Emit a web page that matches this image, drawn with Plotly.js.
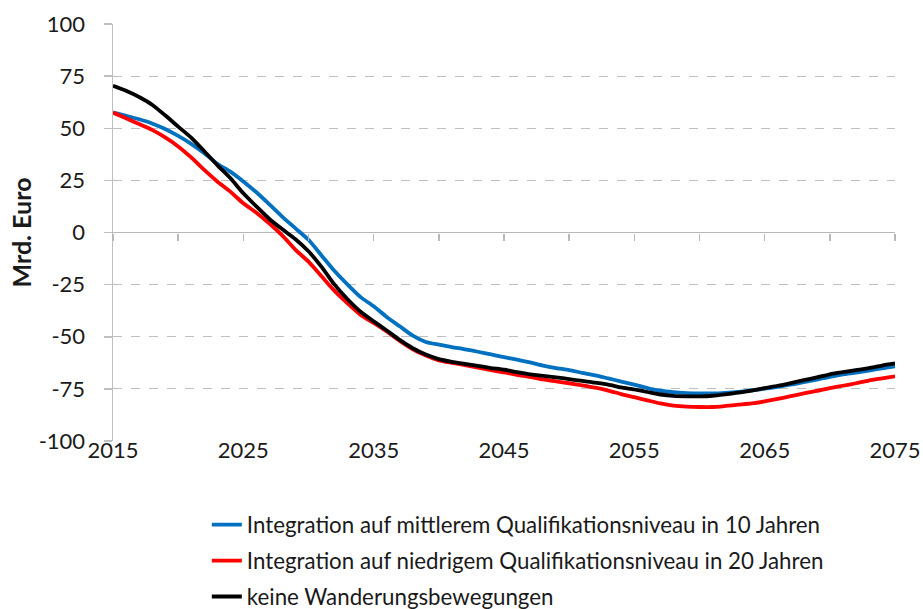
<!DOCTYPE html>
<html>
<head>
<meta charset="utf-8">
<script src="https://cdn.plot.ly/plotly-3.0.1.min.js"></script>
<style>html,body{margin:0;padding:0;background:#fff;overflow:hidden;width:923px;height:609px;}#wrap{width:923px;height:609px;overflow:hidden;}</style>
</head>
<body>
<div id="wrap"><div id="chart"></div></div>
<script>
const years = [];
for (let y = 2015; y <= 2075; y++) years.push(y);

const seriesNames = [
  "Integration auf mittlerem Qualifikationsniveau in 10 Jahren",
  "Integration auf niedrigem Qualifikationsniveau in 20 Jahren",
  "keine Wanderungsbewegungen"
];

const mittel10 = [57.5,56.0,54.3,52.3,49.6,46.3,42.5,38.0,33.0,29.2,24.5,19.3,13.5,7.5,2.0,-3.5,-11.0,-18.5,-25.0,-31.0,-35.4,-40.5,-45.0,-49.5,-52.5,-53.8,-55.0,-56.0,-57.2,-58.5,-59.8,-61.0,-62.3,-63.8,-65.0,-66.0,-67.3,-68.5,-70.0,-71.5,-73.0,-74.6,-75.9,-76.6,-77.0,-77.2,-77.2,-76.9,-76.4,-75.7,-74.9,-74.0,-73.0,-71.8,-70.6,-69.2,-68.0,-67.2,-66.2,-65.2,-64.2];

const niedrig20 = [57.5,54.8,52.0,49.2,45.6,41.3,36.0,30.0,24.5,19.6,14.0,9.5,4.3,-1.5,-8.3,-14.0,-21.0,-28.0,-34.0,-39.5,-43.4,-47.5,-52.0,-56.0,-59.0,-61.3,-62.5,-63.6,-64.8,-66.0,-67.1,-68.3,-69.3,-70.5,-71.4,-72.3,-73.3,-74.4,-75.8,-77.5,-79.0,-80.5,-82.0,-83.0,-83.5,-83.7,-83.7,-83.2,-82.6,-82.0,-81.0,-79.8,-78.5,-77.2,-76.0,-74.6,-73.5,-72.3,-71.0,-70.0,-69.0];

const keine = [70.4,68.0,65.0,61.3,56.2,50.8,45.5,39.0,32.3,26.1,18.8,12.5,6.5,1.5,-3.2,-9.0,-16.5,-25.0,-32.0,-38.0,-42.6,-47.0,-51.5,-55.5,-58.5,-60.7,-62.0,-63.0,-64.0,-65.0,-65.8,-67.0,-68.0,-68.8,-69.5,-70.3,-71.2,-72.0,-73.0,-74.3,-75.3,-76.5,-77.7,-78.4,-78.6,-78.6,-78.3,-77.6,-76.8,-75.8,-74.6,-73.5,-72.2,-70.8,-69.5,-68.0,-67.0,-66.0,-65.0,-63.8,-62.8];

const xTickVals = [2015,2025,2035,2045,2055,2065,2075];
const yTickVals = [-100,-75,-50,-25,0,25,50,75,100];

const colors = ["#0070C0", "#FF0000", "#000000"];
const values = [mittel10, niedrig20, keine];

const traces = values.map((v, i) => ({
  x: years, y: v, type: "scatter", mode: "lines",
  name: seriesNames[i], legendgroup: "g" + i,
  line: {color: colors[i], width: 3.8, shape: "spline", smoothing: 0.6},
  hoverinfo: "skip"
}));
traces.push({x: [2015, 2075], y: [null, null], xaxis: "x2", type: "scatter", mode: "lines", showlegend: false, hoverinfo: "skip"});

const font = "Lato, 'Open Sans', sans-serif";

const layout = {
  width: 923, height: 640,
  margin: {l: 113, r: 28, t: 24, b: 199},
  paper_bgcolor: "#fff", plot_bgcolor: "#fff",
  font: {family: font, color: "#1a1a1a", size: 22},
  showlegend: true,
  legend: {
    x: 0.12, xanchor: "left", y: -0.15, yanchor: "top",
    font: {family: font, size: 22.3, color: "#1a1a1a"},
    bgcolor: "rgba(0,0,0,0)", traceorder: "grouped", tracegroupgap: 4
  },
  xaxis: {
    range: [2015, 2075], tickmode: "array", tickvals: xTickVals,
    ticktext: xTickVals.map(String),
    showgrid: false, zeroline: false, showline: false, ticks: "",
    ticklabelstandoff: -6,
    tickfont: {family: font, size: 22, color: "#1a1a1a"}
  },
  xaxis2: {
    overlaying: "x", anchor: "free", position: 0.5, range: [2015, 2075],
    tickmode: "linear", tick0: 2015, dtick: 5,
    showline: false,
    ticks: "outside", ticklen: 7, tickcolor: "#b8b8b8", tickwidth: 1.5,
    showticklabels: false, showgrid: false, zeroline: false
  },
  yaxis: {
    range: [-100, 100], tickmode: "array", tickvals: yTickVals,
    ticktext: yTickVals.map(String),
    showgrid: true, gridcolor: "#bfbfbf", griddash: "dash", gridwidth: 1,
    zeroline: true, zerolinecolor: "#b8b8b8", zerolinewidth: 1.6,
    showline: true, linecolor: "#bfbfbf", linewidth: 1.5,
    ticks: "outside", ticklen: 8, tickcolor: "#bfbfbf", tickwidth: 1.5,
    ticklabelstandoff: 14,
    tickfont: {family: font, size: 22, color: "#1a1a1a"},
    title: {text: "<b>Mrd. Euro</b>", font: {family: font, size: 25, color: "#1a1a1a"}, standoff: 0}
  }
};

Plotly.newPlot("chart", traces, layout, {displayModeBar: false, staticPlot: true});
</script>
</body>
</html>
